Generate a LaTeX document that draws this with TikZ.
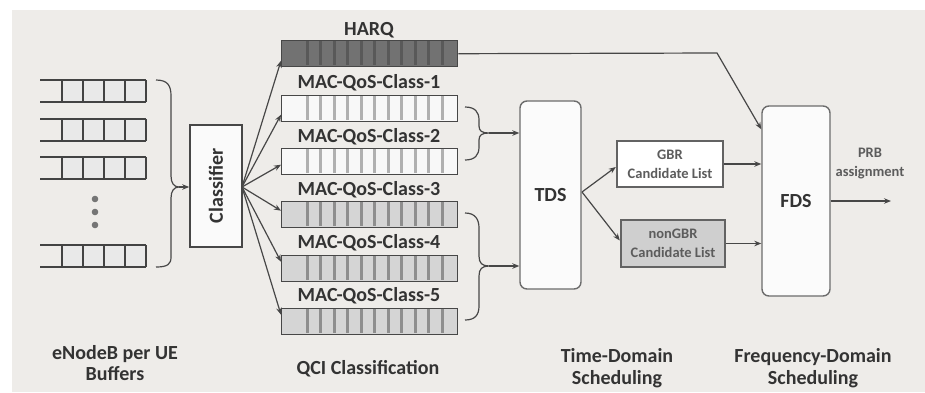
\documentclass[tikz,border=0pt]{standalone}
\usepackage{fontspec}
\setmainfont{Carlito}
\usetikzlibrary{arrows.meta,calc}

\definecolor{bg}{HTML}{EEECE9}
\definecolor{ink}{HTML}{333333}
\definecolor{edge}{HTML}{474747}
\definecolor{harqfill}{HTML}{727272}
\definecolor{harqdiv}{HTML}{595959}
\definecolor{lightq}{HTML}{F8F8F8}
\definecolor{greyq}{HTML}{D5D5D5}
\definecolor{divider}{HTML}{8E8E8E}
\definecolor{cellfill}{HTML}{E9E9E9}
\definecolor{boxgrey}{HTML}{CFCFCF}

\tikzset{
  arr/.style={draw=edge, line width=1.2pt, -{Stealth[length=7pt,width=5.5pt]}},
  qbox/.style={draw=edge, line width=1.4pt, minimum width=176pt, minimum height=26pt,
               inner sep=0pt, anchor=north west},
  biglabel/.style={font=\fontsize{20}{23}\selectfont\bfseries, text=ink, align=center, inner sep=0pt},
  captionlabel/.style={font=\fontsize{20}{21.5}\selectfont\bfseries, text=ink, align=center, inner sep=0pt},
  smalllabel/.style={font=\fontsize{14.5}{19}\selectfont\bfseries, text=ink!80, align=center, inner sep=0pt},
  sched/.style={draw=gray!85!black, line width=1.4pt, rounded corners=7pt, fill=white!97!gray,
                inner sep=0pt},
  listbox/.style={draw=edge!85, line width=2.4pt, inner sep=0pt},
  bufline/.style={draw=edge!95!black, line width=2pt},
  bracestyle/.style={draw=edge, line width=1.2pt}
}

\begin{document}
\begin{tikzpicture}[x=1pt,y=-1pt]
\useasboundingbox (0,0) rectangle (925,392);
\fill[white] (0,0) rectangle (925,392);
\fill[bg] (12,10) rectangle (925,392);

% ---------- per-UE buffers ----------
\foreach \t in {80,119,157,245}{
  \fill[cellfill] (62,\t) rectangle (146,\t+22);
  \draw[bufline] (40,\t) -- (146,\t);
  \draw[bufline] (40,\t+22) -- (146,\t+22);
  \foreach \x in {62,83,104,125,146}
    \draw[bufline] (\x,\t) -- (\x,\t+22);
}
\foreach \y in {199,212,225}
  \fill[edge!75] (95,\y) circle (3.3pt);

% brace gathering the buffers
\draw[bracestyle] (156,80) .. controls (168,80) and (171,86) .. (171,96) -- (171,176)
  .. controls (171,183) and (174,187) .. (179,187)
  .. controls (174,187) and (171,191) .. (171,198) -- (171,257)
  .. controls (171,264) and (168,267) .. (156,267);
\coordinate (ubtip) at (179,187);

% ---------- classifier ----------
\node[draw=edge, line width=1.5pt, fill=white!96!gray, minimum width=122pt, minimum height=52pt,
      rotate=90, inner sep=0pt, biglabel] (cls) at (216,186) {Classifier};
\draw[arr] (ubtip) -- (ubtip -| cls.north);

% ---------- QCI queues ----------
\node[qbox, fill=harqfill] (harq) at (281,40) {};
\node[qbox, fill=lightq]   (c1)   at (281,95) {};
\node[qbox, fill=lightq]   (c2)   at (281,148) {};
\node[qbox, fill=greyq]    (c3)   at (281,201) {};
\node[qbox, fill=greyq]    (c4)   at (281,255) {};
\node[qbox, fill=greyq]    (c5)   at (281,308) {};

\foreach \t/\dc in {40/harqdiv,95/divider!70,148/divider!70,201/divider,255/divider,308/divider}{
  \foreach \k in {0,...,10}
    \draw[\dc, line width=3pt] (307+13.5*\k,\t+0.8) -- (307+13.5*\k,\t+25.2);
}

\node[biglabel] (lharq) at (369,30) {HARQ};
\node[biglabel] (l1) at (369,83) {MAC-QoS-Class-1};
\node[biglabel] (l2) at (369,137) {MAC-QoS-Class-2};
\node[biglabel] (l3) at (369,190) {MAC-QoS-Class-3};
\node[biglabel] (l4) at (369,243) {MAC-QoS-Class-4};
\node[biglabel] (l5) at (369,296) {MAC-QoS-Class-5};

% classifier fan-out
\coordinate (fan) at (242,187);
\draw[arr] (fan) -- ($(harq.west)+(0,7)$);
\draw[arr] (fan) -- ($(c1.west)+(0,6)$);
\draw[arr] (fan) -- ($(c2.west)+(0,3)$);
\draw[arr] (fan) -- ($(c3.west)+(0,-4)$);
\draw[arr] (fan) -- ($(c4.west)+(0,-7)$);
\draw[arr] (fan) -- ($(c5.west)+(0,-7)$);

% ---------- time-domain scheduler ----------
\node[sched, minimum width=61pt, minimum height=188pt] (tds) at (550.5,195) {};
\node[biglabel] (ltds) at (tds.center) {TDS};

% braces merging queues into the TDS
\draw[bracestyle] (465,107) .. controls (475,107) and (479,112) .. (479,120) -- (479,126)
  .. controls (479,131) and (482,133) .. (489,133)
  .. controls (482,133) and (479,135) .. (479,140) -- (479,147)
  .. controls (479,155) and (475,160) .. (465,160);
\coordinate (b1) at (489,133);
\draw[arr] (b1) -- (b1 -| tds.west);

\draw[bracestyle] (465,213) .. controls (475,213) and (479,219) .. (479,228) -- (479,256)
  .. controls (479,263) and (482,266) .. (489,266)
  .. controls (482,266) and (479,269) .. (479,276) -- (479,306)
  .. controls (479,315) and (475,320) .. (465,320);
\coordinate (b2) at (489,266);
\draw[arr] (b2) -- (b2 -| tds.west);

% ---------- candidate lists ----------
\node[listbox, fill=white, minimum width=106pt, minimum height=46pt, smalllabel] (gbr) at (670,164)
  {GBR\\Candidate List};
\node[listbox, fill=boxgrey, minimum width=104pt, minimum height=47pt, smalllabel] (ngbr) at (673,243.5)
  {nonGBR\\Candidate List};

\coordinate (tdsout) at (582,192);
\draw[arr] (tdsout) -- ($(gbr.west)+(0,3)$);
\draw[arr] (tdsout) -- ($(ngbr.west)+(0,-3)$);

% ---------- frequency-domain scheduler ----------
\node[sched, minimum width=68pt, minimum height=190pt] (fds) at (796,201) {};
\node[biglabel] (lfds) at (fds.center) {FDS};

\draw[arr] (gbr.east) -- (gbr.east -| fds.west);
\draw[arr] (ngbr.east) -- (ngbr.east -| fds.west);

\coordinate (bend) at (717,53);
\draw[arr] (harq.east) -- (bend) -- ($(fds.north west)+(0,24)$);

\coordinate (out) at (891,201);
\draw[arr] (fds.east) -- (out);
\node[smalllabel] (prb) at (870,164) {PRB\\assignment};

% ---------- stage captions ----------
\node[captionlabel] (cap1) at (115,363) {eNodeB per UE\\Buffers};
\node[biglabel] (cap2) at (368,369) {QCI Classification};
\node[captionlabel] (cap3) at (617,368) {Time-Domain\\Scheduling};
\node[captionlabel] (cap4) at (813,368) {Frequency-Domain\\Scheduling};
\end{tikzpicture}
\end{document}
